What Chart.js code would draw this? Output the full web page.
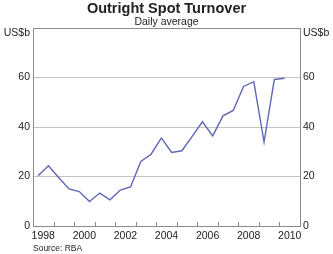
<!DOCTYPE html>
<html lang="en">
<head>
  <meta charset="UTF-8" />
  <title>Outright Spot Turnover</title>
  <script src="https://cdn.jsdelivr.net/npm/chart.js"></script>
  <style>
    html, body { margin: 0; padding: 0; background: #fff; }
    #wrap { width: 333px; height: 254px; }
  </style>
</head>
<body>
  <div id="wrap">
    <canvas id="turnover" width="333" height="254"></canvas>
  </div>
  <script>
    // Survey periods (April / October) and daily average turnover, US$b
    const periods = ['1998-04', '1998-10', '1999-04', '1999-10', '2000-04', '2000-10',
                     '2001-04', '2001-10', '2002-04', '2002-10', '2003-04', '2003-10',
                     '2004-04', '2004-10', '2005-04', '2005-10', '2006-04', '2006-10',
                     '2007-04', '2007-10', '2008-04', '2008-10', '2009-04', '2009-10',
                     '2010-04'];
    const turnover = [20.3, 24.3, 19.6, 15.0, 13.9, 9.9, 13.3, 10.6, 14.5, 15.8,
                      26.1, 29.0, 35.6, 29.7, 30.4, 36.2, 42.1, 36.4, 44.5, 46.7,
                      56.4, 58.3, 33.9, 59.2, 59.7];
    const yearLabels = [1998, 2000, 2002, 2004, 2006, 2008, 2010];
    const yearTicks = [1999, 2000, 2001, 2002, 2003, 2004, 2005, 2006, 2007, 2008, 2009, 2010];
    const yTicks = [0, 20, 40, 60, 80];

    const FONT = "'Liberation Sans Narrow', 'Liberation Sans', Arial, sans-serif";
    const GRID = '#c4c4c4';
    const FRAME = '#8c8c8c';

    // decimal year from 'YYYY-MM'
    const toYear = p => {
      const [y, m] = p.split('-').map(Number);
      return y + (m - 1) / 12;
    };
    const points = periods.map((p, i) => ({ x: toYear(p), y: turnover[i] }));

    // small inward tick marks on the x axis + unit labels
    const extras = {
      id: 'extras',
      afterDraw(chart) {
        const { ctx, chartArea, scales } = chart;
        ctx.save();
        ctx.strokeStyle = FRAME;
        ctx.lineWidth = 1;
        yearTicks.forEach(y => {
          const px = Math.round(scales.x.getPixelForValue(y)) + 0.5;
          ctx.beginPath();
          ctx.moveTo(px, chartArea.bottom);
          ctx.lineTo(px, chartArea.bottom - 4);
          ctx.stroke();
        });
        ctx.fillStyle = '#222';
        ctx.font = '10.5px ' + FONT;
        ctx.textBaseline = 'middle';
        ctx.textAlign = 'right';
        ctx.fillText('US$b', chartArea.left - 3, chartArea.top + 5);
        ctx.textAlign = 'left';
        ctx.fillText('US$b', chartArea.right + 3, chartArea.top + 5);
        ctx.restore();
      }
    };

    const yTickOpts = {
      color: '#222',
      font: { family: FONT, size: 10.5 },
      padding: 3,
      callback: v => (v === 80 ? '' : v)
    };

    new Chart(document.getElementById('turnover'), {
      type: 'line',
      data: {
        datasets: [{
          data: points,
          borderColor: '#6166b6',
          borderWidth: 1.4,
          pointRadius: 0,
          tension: 0,
          fill: false
        }]
      },
      options: {
        responsive: false,
        animation: false,
        layout: { autoPadding: false, padding: 0 },
        plugins: {
          legend: { display: false },
          tooltip: { enabled: false },
          title: {
            display: true,
            text: 'Outright Spot Turnover',
            color: '#222',
            font: { family: FONT, size: 14.5, weight: 'bold', lineHeight: 1 },
            padding: { top: 2, bottom: 0 }
          },
          subtitle: {
            display: true,
            text: 'Daily average',
            color: '#222',
            font: { family: FONT, size: 10.5, lineHeight: 1 },
            padding: { top: 0, bottom: 1 }
          }
        },
        scales: {
          x: {
            type: 'linear',
            min: 1998,
            max: 2011,
            afterBuildTicks: s => { s.ticks = yearLabels.map(y => ({ value: y + 0.5 })); },
            afterFit: s => { s.height = 28; },
            grid: { display: false, drawTicks: false },
            border: { color: FRAME },
            ticks: {
              color: '#222',
              font: { family: FONT, size: 10.5 },
              padding: 4,
              maxRotation: 0,
              autoSkip: false,
              callback: (v, i) => yearLabels[i]
            },
            title: {
              display: true,
              text: 'Source: RBA',
              align: 'start',
              color: '#222',
              font: { family: FONT, size: 8.5, lineHeight: 1.2 },
              padding: { top: 1, bottom: 0 }
            }
          },
          y: {
            min: 0,
            max: 80,
            afterBuildTicks: s => { s.ticks = yTicks.map(v => ({ value: v })); },
            afterFit: s => { s.width = 33; },
            grid: {
              color: c => (c.tick && c.tick.value === 80 ? FRAME : GRID),
              drawTicks: false
            },
            border: { color: FRAME },
            ticks: yTickOpts
          },
          y2: {
            position: 'right',
            min: 0,
            max: 80,
            afterBuildTicks: s => { s.ticks = yTicks.map(v => ({ value: v })); },
            afterFit: s => { s.width = 33; },
            grid: { drawOnChartArea: false, drawTicks: false },
            border: { color: FRAME },
            ticks: yTickOpts
          }
        }
      },
      plugins: [extras]
    });
  </script>
</body>
</html>
